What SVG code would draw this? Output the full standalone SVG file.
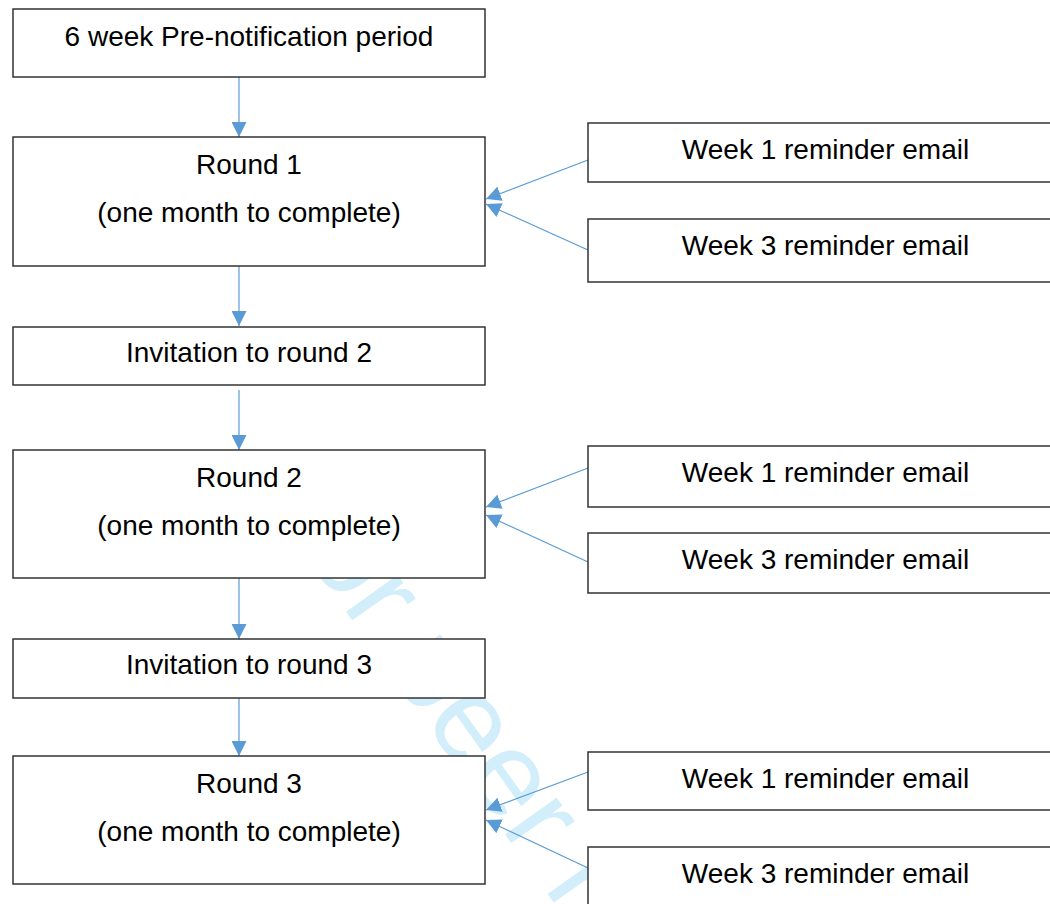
<svg xmlns="http://www.w3.org/2000/svg" width="1050" height="904" viewBox="0 0 1050 904">
<style>
.box{fill:#ffffff;stroke:#333333;stroke-width:1.5}
.t{font-family:"Liberation Sans",Arial,sans-serif;font-size:28px;fill:#000000;text-anchor:middle}
.c{stroke:#5b9bd5;stroke-width:1.2;fill:none;marker-end:url(#ah)}
.wm{font-family:"Liberation Sans",Arial,sans-serif;font-size:120px;fill:#d2eefa}
</style>
<defs>
<marker id="ah" markerUnits="userSpaceOnUse" markerWidth="15" markerHeight="15" refX="15" refY="7.5" orient="auto">
<path d="M0,0 L15,7.5 L0,15 z" fill="#5b9bd5"/>
</marker>
</defs>
<rect x="0" y="0" width="1050" height="904" fill="#ffffff"/>
<text class="wm" transform="translate(260,491) rotate(54.5)">For peer review only</text>
<g id="connectors">
<line class="c" x1="239" y1="77" x2="239" y2="137"/>
<line class="c" x1="239" y1="266" x2="239" y2="326"/>
<line class="c" x1="239" y1="390" x2="239" y2="450"/>
<line class="c" x1="239" y1="578" x2="239" y2="639"/>
<line class="c" x1="239" y1="698" x2="239" y2="756"/>
<line class="c" x1="588" y1="160" x2="486" y2="199"/>
<line class="c" x1="588" y1="250" x2="486" y2="204"/>
<line class="c" x1="588" y1="468" x2="486" y2="507"/>
<line class="c" x1="588" y1="562" x2="486" y2="515"/>
<line class="c" x1="588" y1="772" x2="486" y2="810"/>
<line class="c" x1="588" y1="868" x2="486" y2="820"/>
</g>
<g id="pre-notification">
<rect class="box" x="13" y="9" width="472" height="68"/>
<text class="t" x="249" y="45.5">6 week Pre-notification period</text>
</g>
<g id="round1">
<rect class="box" x="13" y="137" width="472" height="129"/>
<text class="t" x="249" y="174">Round 1</text>
<text class="t" x="249" y="222">(one month to complete)</text>
</g>
<g id="invitation2">
<rect class="box" x="13" y="327" width="472" height="58"/>
<text class="t" x="249" y="362">Invitation to round 2</text>
</g>
<g id="round2">
<rect class="box" x="13" y="450" width="472" height="128"/>
<text class="t" x="249" y="487">Round 2</text>
<text class="t" x="249" y="535">(one month to complete)</text>
</g>
<g id="invitation3">
<rect class="box" x="13" y="639" width="472" height="59"/>
<text class="t" x="249" y="674">Invitation to round 3</text>
</g>
<g id="round3">
<rect class="box" x="13" y="756" width="472" height="128"/>
<text class="t" x="249" y="793">Round 3</text>
<text class="t" x="249" y="841">(one month to complete)</text>
</g>
<g id="r1-week1">
<rect class="box" x="588" y="123" width="480" height="59"/>
<text class="t" x="825.5" y="159">Week 1 reminder email</text>
</g>
<g id="r1-week3">
<rect class="box" x="588" y="219" width="480" height="63"/>
<text class="t" x="825.5" y="255">Week 3 reminder email</text>
</g>
<g id="r2-week1">
<rect class="box" x="588" y="446" width="480" height="61"/>
<text class="t" x="825.5" y="482">Week 1 reminder email</text>
</g>
<g id="r2-week3">
<rect class="box" x="588" y="533" width="480" height="60"/>
<text class="t" x="825.5" y="569">Week 3 reminder email</text>
</g>
<g id="r3-week1">
<rect class="box" x="588" y="752" width="480" height="58"/>
<text class="t" x="825.5" y="788">Week 1 reminder email</text>
</g>
<g id="r3-week3">
<rect class="box" x="588" y="847" width="480" height="70"/>
<text class="t" x="825.5" y="883">Week 3 reminder email</text>
</g>
</svg>
